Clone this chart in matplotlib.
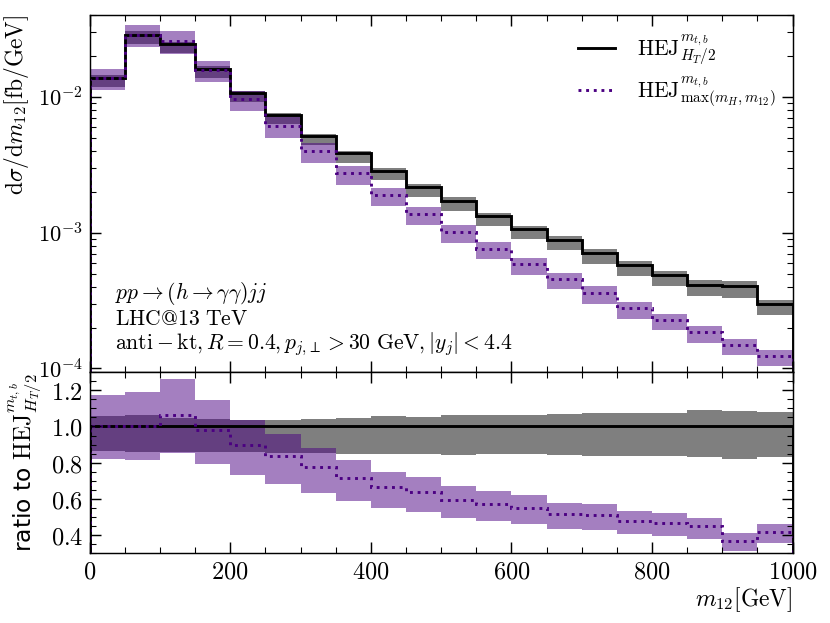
#import
import matplotlib
matplotlib.use("Agg")
import matplotlib.pyplot as plt
import numpy as np
from matplotlib.ticker import MultipleLocator, FuncFormatter, LogLocator, NullFormatter

#data: m12 bins (GeV)
edges = np.arange(0, 1050, 50)

# HEJ, mu = H_T/2 central value [fb/GeV]
hej_ht2 = [0.01366, 0.02846, 0.02431, 0.01608, 0.01070, 0.00733, 0.005161,
           0.003831, 0.002851, 0.002151, 0.001706, 0.001322, 0.001056,
           0.000881, 0.000703, 0.000576, 0.000484, 0.000411, 0.000404, 0.000296]

# scale band of H_T/2 relative to its central value
ht2_up = [1.057, 1.065, 1.044, 1.043, 1.033, 1.033, 1.039, 1.044, 1.057, 1.054,
          1.063, 1.063, 1.065, 1.069, 1.072, 1.076, 1.076, 1.089, 1.083, 1.080]
ht2_down = [0.863, 0.857, 0.857, 0.857, 0.857, 0.855, 0.855, 0.850, 0.850, 0.848,
            0.844, 0.848, 0.848, 0.840, 0.835, 0.835, 0.835, 0.831, 0.822, 0.830]

# max(m_H, m12) relative to H_T/2 central
mx_ratio = [1.0, 1.0, 1.061, 0.98, 0.898, 0.835, 0.774, 0.717, 0.665, 0.639,
            0.594, 0.574, 0.552, 0.517, 0.513, 0.480, 0.469, 0.448, 0.370, 0.419]
mx_up = [1.172, 1.191, 1.261, 1.144, 1.033, 0.961, 0.883, 0.813, 0.750, 0.720,
         0.670, 0.646, 0.620, 0.576, 0.572, 0.533, 0.520, 0.496, 0.411, 0.463]
mx_down = [0.819, 0.813, 0.854, 0.794, 0.730, 0.681, 0.633, 0.589, 0.550, 0.528,
           0.494, 0.480, 0.461, 0.433, 0.426, 0.404, 0.394, 0.376, 0.313, 0.354]

c = np.array(hej_ht2)

#config
plt.rcParams["mathtext.fontset"] = "cm"
plt.rcParams["font.family"] = ["DejaVu Sans"]

fig = plt.figure(figsize=(830 / 130, 623 / 130), dpi=130)
gs = fig.add_gridspec(2, 1, height_ratios=[357, 181], hspace=0,
                      left=0.108, right=0.955, top=0.976, bottom=0.112)
ax = fig.add_subplot(gs[0])
rx = fig.add_subplot(gs[1], sharex=ax)

#top panel
ax.stairs(c * np.array(ht2_up), edges, baseline=c * np.array(ht2_down), fill=True,
          color="black", alpha=0.5, lw=0)
ax.stairs(c * np.array(mx_up), edges, baseline=c * np.array(mx_down), fill=True,
          color="indigo", alpha=0.5, lw=0)
ax.stairs(c, edges, color="black", lw=1.6, label=r"$\mathrm{HEJ}^{m_{t,b}}_{H_T/2}$")
ax.stairs(c * np.array(mx_ratio), edges, color="indigo", lw=1.6, ls=":",
          label=r"$\mathrm{HEJ}^{m_{t,b}}_{\max(m_H,m_{12})}$")
ax.set_yscale("log")
ax.set_ylim(9.4e-5, 4.0e-2)
ax.set_ylabel(r"$\mathrm{d}\sigma/\mathrm{d}m_{12}[\mathrm{fb/GeV}]$", fontsize=13, loc="top")
ax.yaxis.set_label_coords(-0.083, 1.0)
ax.yaxis.set_major_formatter(FuncFormatter(lambda v, p: r"$10^{%d}$" % round(np.log10(v))))
ax.yaxis.set_minor_locator(LogLocator(base=10, subs=np.arange(2, 10)))
ax.yaxis.set_minor_formatter(NullFormatter())
ax.tick_params(labelbottom=False)
ax.tick_params(axis="y", labelsize=12.5)
ax.legend(loc="upper right", frameon=False, fontsize=12, handlelength=1.7,
          borderaxespad=0.4, labelspacing=0.35, handletextpad=1.0)
ax.text(0.036, 0.04,
        "$pp\\to(h\\to\\gamma\\gamma)jj$\n"
        "$\\mathrm{LHC@13\\ TeV}$\n"
        "$\\mathrm{anti-kt}, R=0.4, p_{j,\\!\\perp}>30\\ \\mathrm{GeV}, |y_j|<4.4$",
        transform=ax.transAxes, fontsize=12, va="bottom", ha="left", linespacing=1.1)

#ratio panel
ones = np.ones(len(c))
rx.stairs(ht2_up, edges, baseline=ht2_down, fill=True, color="black", alpha=0.5, lw=0)
rx.stairs(mx_up, edges, baseline=mx_down, fill=True, color="indigo", alpha=0.5, lw=0)
rx.stairs(ones, edges, color="black", lw=1.6)
rx.stairs(mx_ratio, edges, color="indigo", lw=1.6, ls=":")
rx.set_ylim(0.3, 1.3)
rx.set_xlim(0, 1000)
rx.set_ylabel(r"ratio to $\mathrm{HEJ}^{m_{t,b}}_{H_T/2}$", fontsize=13)
rx.yaxis.set_label_coords(-0.066, 0.5)
rx.set_xlabel(r"$m_{12}[\mathrm{GeV}]$", fontsize=13, loc="right", labelpad=1)
rx.yaxis.set_major_locator(MultipleLocator(0.2))
rx.yaxis.set_minor_locator(MultipleLocator(0.05))
rx.yaxis.set_major_formatter(FuncFormatter(lambda v, p: r"$%.1f$" % v))
rx.xaxis.set_major_locator(MultipleLocator(200))
rx.xaxis.set_minor_locator(MultipleLocator(50))
rx.xaxis.set_major_formatter(FuncFormatter(lambda v, p: r"$%d$" % round(v)))

for a in (ax, rx):
    a.tick_params(which="both", direction="in", top=True, right=True)
    a.tick_params(which="major", length=6)
    a.tick_params(which="minor", length=3.5)
rx.tick_params(labelsize=13.5)

#save
fig.savefig("out.png", dpi=130)
